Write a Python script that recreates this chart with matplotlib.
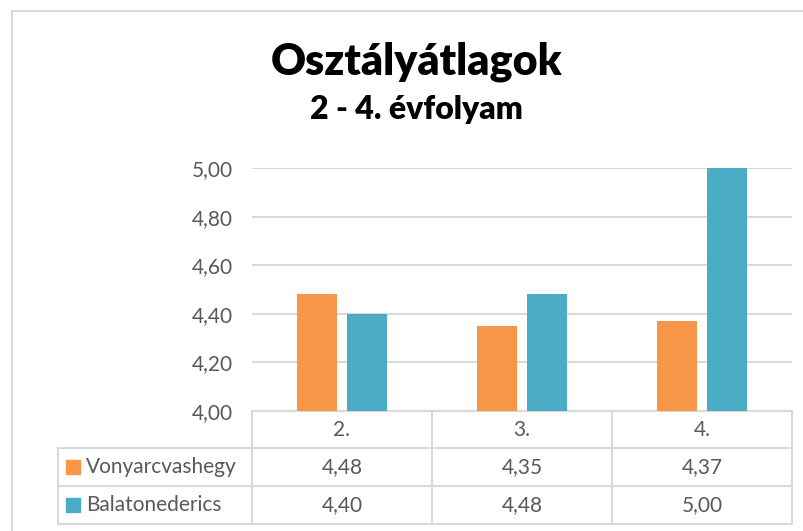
import matplotlib
matplotlib.use("Agg")
import matplotlib.pyplot as plt
from matplotlib.transforms import blended_transform_factory
from matplotlib.patches import Rectangle

plt.rcParams['font.family'] = ['Lato', 'DejaVu Sans']

categories = ["2.", "3.", "4."]
series_names = ["Vonyarcvashegy", "Balatonederics"]
vonyarc = [4.48, 4.35, 4.37]
balaton = [4.40, 4.48, 5.00]
yticks = [4.00, 4.20, 4.40, 4.60, 4.80, 5.00]

colors = ["#F79646", "#4BACC6"]
grid_c = "#D9D9D9"
text_c = "#595959"

W, H = 804, 531
fig = plt.figure(figsize=(W / 100, H / 100), dpi=100)

def fx(px):
    return px / W

def fy(py):
    return 1 - py / H

# chart border
fig.add_artist(Rectangle((fx(12), fy(540)), fx(820), fy(11) - fy(540), transform=fig.transFigure,
                         fill=False, edgecolor=grid_c, linewidth=1.5))

ax = fig.add_axes([fx(252), fy(411), fx(792) - fx(252), fy(168) - fy(411)])
x = list(range(len(categories)))
bw = 0.222
off = 0.139
ax.bar([i - off for i in x], vonyarc, width=bw, color=colors[0], zorder=3)
ax.bar([i + off for i in x], balaton, width=bw, color=colors[1], zorder=3)

ax.set_xlim(-0.5, len(categories) - 0.5)
ax.set_ylim(4.0, 5.0)
ax.set_yticks(yticks)
ax.set_yticklabels([f"{v:.2f}".replace(".", ",") for v in yticks], fontsize=15, color=text_c)
ax.tick_params(axis="y", length=0, pad=14)
ax.set_xticks([])
for s in ax.spines.values():
    s.set_visible(False)
ax.yaxis.grid(True, color=grid_c, linewidth=1.5, zorder=0)

# data table
tr = blended_transform_factory(ax.transData, fig.transFigure)
lw = 1.5
row_y = [411, 448, 486, 524]
left_px = 58
xl, xr = -0.5, len(categories) - 0.5
# horizontal lines
ax.plot([xl, xr], [fy(row_y[0])] * 2, transform=tr, color=grid_c, lw=lw, clip_on=False)
for py in row_y[1:]:
    fig.add_artist(plt.Line2D([fx(left_px), fx(792)], [fy(py)] * 2, transform=fig.transFigure,
                              color=grid_c, lw=lw))
# vertical lines
for b in range(len(categories) + 1):
    ax.plot([b - 0.5, b - 0.5], [fy(row_y[0]), fy(row_y[-1])], transform=tr,
            color=grid_c, lw=lw, clip_on=False)
fig.add_artist(plt.Line2D([fx(left_px)] * 2, [fy(row_y[1]), fy(row_y[-1])], transform=fig.transFigure,
                          color=grid_c, lw=lw))

# header
for i, c in enumerate(categories):
    ax.text(i, fy((row_y[0] + row_y[1]) / 2), c, transform=tr, ha="center", va="center",
            fontsize=15, color=text_c)
# rows
for r, (name, vals) in enumerate(zip(series_names, [vonyarc, balaton])):
    yc = (row_y[r + 1] + row_y[r + 2]) / 2
    fig.add_artist(Rectangle((fx(66), fy(yc + 7)), fx(14), fy(yc - 7) - fy(yc + 7),
                             transform=fig.transFigure, color=colors[r]))
    fig.text(fx(86), fy(yc), name, ha="left", va="center", fontsize=15, color=text_c)
    for i, v in enumerate(vals):
        ax.text(i, fy(yc), f"{v:.2f}".replace(".", ","), transform=tr, ha="center", va="center",
                fontsize=15, color=text_c)

# titles
fig.text(fx(417), fy(62), "Osztályátlagok", ha="center", va="center", fontsize=31,
         fontweight="heavy", color="black")
fig.text(fx(416), fy(110), "2 - 4. évfolyam", ha="center", va="center", fontsize=23,
         fontweight="heavy", color="black")

fig.savefig("out.png", dpi=100)
